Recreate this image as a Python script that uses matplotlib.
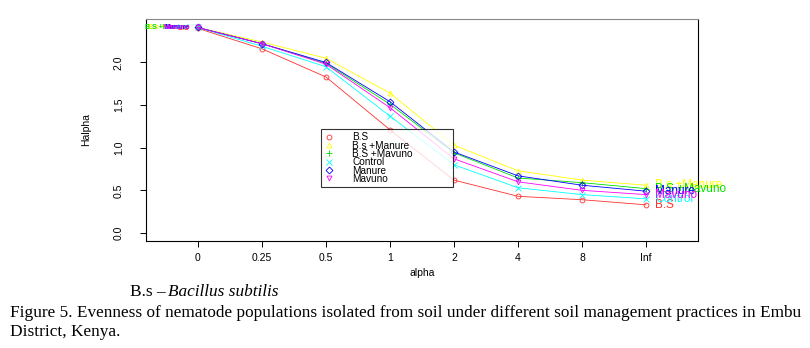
import numpy as np

import matplotlib
matplotlib.use('agg')

from matplotlib import pyplot as plt

alpha_labels = ["0", "0.25", "0.5", "1", "2", "4", "8", "Inf"]

series_names = ["B.S", "B.s +Manure", "B.S +Mavuno", "Control", "Manure", "Mavuno"]
bs = [2.40, 2.16, 1.83, 1.21, 0.62, 0.43, 0.39, 0.33]
bs_manure = [2.41, 2.24, 2.05, 1.64, 1.03, 0.73, 0.62, 0.56]
bs_mavuno = [2.41, 2.22, 1.99, 1.51, 0.94, 0.645, 0.59, 0.52]
control = [2.41, 2.19, 1.95, 1.37, 0.80, 0.53, 0.45, 0.40]
manure = [2.41, 2.22, 2.00, 1.54, 0.95, 0.67, 0.56, 0.49]
mavuno = [2.41, 2.22, 1.98, 1.47, 0.87, 0.60, 0.50, 0.45]

series = [bs, bs_manure, bs_mavuno, control, manure, mavuno]
colors = ["#ff3030", "#ffff00", "#00e000", "#00ffff", "#0000ff", "#ff00ff"]
markers = ["o", "^", "+", "x", "D", "v"]

plt.rcParams['font.family'] = ['Liberation Sans', 'DejaVu Sans']

fig = plt.figure(figsize=(8.1, 3.48), dpi=100)
ax = fig.add_axes([0.1802, 0.3075, 0.6815, 0.638])

x = np.arange(1, len(alpha_labels) + 1)
for vals, name, c, m in zip(series, series_names, colors, markers):
    ms = 4 if m in ("+", "x") else 3.5
    ax.plot(x, vals, '-', color=c, lw=0.6, marker=m, markersize=ms,
            markerfacecolor='none', markeredgewidth=0.6, label=name)

# overlapping labels at both ends, as in the original
for vals, name, c in zip(series, series_names, colors):
    ax.text(x[0] - 0.13, vals[0], name, color=c, fontsize=5, ha='right',
            va='center', fontweight='bold')
    ax.text(x[-1] + 0.14, vals[-1], name, color=c, fontsize=8.5, ha='left',
            va='center')

ax.set_xlim(0.19, 8.81)
ax.set_ylim(-0.094, 2.51)
ax.set_xticks(x)
ax.set_xticklabels(alpha_labels, fontsize=7.5)
ax.set_yticks([0.0, 0.5, 1.0, 1.5, 2.0])
ax.set_yticklabels(["0.0", "0.5", "1.0", "1.5", "2.0"], fontsize=7.5,
                   rotation=90, va='center')
ax.tick_params(axis='x', length=4, width=0.7, pad=5)
ax.tick_params(axis='y', length=4, width=0.7, pad=12)
ax.set_xlabel("alpha", fontsize=7.5, labelpad=3)
ax.set_ylabel("Halpha", fontsize=7.5, labelpad=16)
for s in ax.spines.values():
    s.set_linewidth(0.8)
ax.spines['top'].set_color('#888888')

# legend box roughly 320..452 px wide, 130..186 px tall
leg = ax.legend(loc='upper left', bbox_to_anchor=(0.3175, 0.253, 0.2395, 0.25),
                mode='expand', fontsize=7.2, frameon=True, fancybox=False,
                edgecolor='black', handlelength=1.0, handletextpad=1.8,
                labelspacing=-0.17, borderpad=0.3, borderaxespad=0)
leg.get_frame().set_linewidth(0.8)
for h in leg.legend_handles:
    h.set_linestyle('none')

cap = dict(fontsize=12.4, family='Liberation Serif', va='center')
fig.text(130 / 810, 1 - 292 / 348, "B.s \u2013 ", **cap)
fig.text(168 / 810, 1 - 292 / 348, "Bacillus subtilis", style='italic', **cap)
fig.text(10 / 810, 1 - 313 / 348,
         "Figure 5. Evenness of nematode populations isolated from soil under "
         "different soil management practices in Embu", **cap)
fig.text(10 / 810, 1 - 332 / 348, "District, Kenya.", **cap)

plt.savefig("out.png", dpi=100)
